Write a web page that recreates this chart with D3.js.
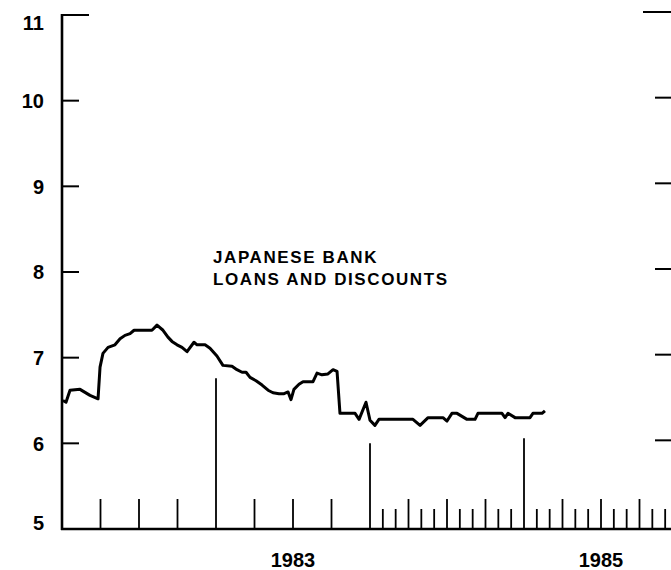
<!DOCTYPE html>
<html lang="en">
<head>
    <meta charset="UTF-8">
    <title>Japanese Bank Loans and Discounts</title>
    <style>
        body { margin: 0; background: #fff; }
        svg { display: block; }
        text { font-family: "Liberation Sans", Arial, sans-serif; fill: #000; }
    </style>
</head>
<body>
    <svg id="chart" width="671" height="570"></svg>

    <script src="https://d3js.org/d3.v7.min.js"></script>
    <script>
        // Rate series (decimal year, percent)
        const dates = [
            1982.006, 1982.026, 1982.052, 1982.117, 1982.182, 1982.234, 1982.247, 1982.266,
            1982.299, 1982.344, 1982.377, 1982.409, 1982.442, 1982.468, 1982.584, 1982.617,
            1982.656, 1982.688, 1982.714, 1982.747, 1982.779, 1982.812, 1982.857, 1982.877,
            1982.929, 1982.961, 1983.006, 1983.045, 1983.104, 1983.136, 1983.169, 1983.195,
            1983.221, 1983.260, 1983.299, 1983.338, 1983.370, 1983.409, 1983.442, 1983.468,
            1983.487, 1983.506, 1983.539, 1983.565, 1983.630, 1983.656, 1983.688, 1983.727,
            1983.760, 1983.786, 1983.805, 1983.903, 1983.929, 1983.974, 1984.000, 1984.032,
            1984.058, 1984.279, 1984.325, 1984.377, 1984.474, 1984.500, 1984.532, 1984.565,
            1984.630, 1984.682, 1984.701, 1984.857, 1984.877, 1984.896, 1984.942, 1985.039,
            1985.058, 1985.117, 1985.136
        ];
        const rates = [
            6.50, 6.48, 6.62, 6.63, 6.56, 6.52, 6.89, 7.05,
            7.12, 7.15, 7.22, 7.26, 7.28, 7.32, 7.32, 7.38,
            7.32, 7.24, 7.19, 7.15, 7.12, 7.07, 7.18, 7.15,
            7.15, 7.11, 7.02, 6.91, 6.90, 6.86, 6.83, 6.83,
            6.77, 6.73, 6.68, 6.62, 6.59, 6.58, 6.58, 6.60,
            6.51, 6.63, 6.69, 6.72, 6.72, 6.82, 6.80, 6.81,
            6.86, 6.84, 6.35, 6.35, 6.28, 6.48, 6.27, 6.21,
            6.28, 6.28, 6.21, 6.30, 6.30, 6.26, 6.35, 6.35,
            6.28, 6.28, 6.35, 6.35, 6.30, 6.35, 6.30, 6.30,
            6.35, 6.35, 6.38
        ];

        const yTicks = [5, 6, 7, 8, 9, 10, 11];
        const yearLabels = [1983, 1985];
        // year boundary marks and how far up each one reaches (percent)
        const yearMarks = [1983, 1984, 1985];
        const yearMarkTops = [6.76, 6.0, 6.06];
        const labelLines = ["JAPANESE BANK", "LOANS AND DISCOUNTS"];

        const svg = d3.select("#chart");
        const x = d3.scaleLinear().domain([1982, 1986]).range([62, 678]);
        const y = d3.scaleLinear().domain([5, 11]).range([529, 15]);

        const ink = "#000";

        // left axis and bottom axis
        svg.append("line")
            .attr("x1", x(1982)).attr("x2", x(1982))
            .attr("y1", y(11) - 1).attr("y2", y(5) + 1)
            .attr("stroke", ink).attr("stroke-width", 2.6);
        svg.append("line")
            .attr("x1", x(1982) - 1).attr("x2", 680)
            .attr("y1", y(5)).attr("y2", y(5))
            .attr("stroke", ink).attr("stroke-width", 2.6);

        // y ticks, left side pointing in
        svg.selectAll(".ytick-l")
            .data(yTicks.filter(d => d > 5))
            .enter().append("line")
            .attr("class", "ytick-l")
            .attr("x1", x(1982))
            .attr("x2", d => x(1982) + (d === 11 ? 27 : 17))
            .attr("y1", d => y(d)).attr("y2", d => y(d))
            .attr("stroke", ink).attr("stroke-width", 2);

        // y ticks, right side (axis itself sits just off the page)
        const rightX = 675;
        svg.selectAll(".ytick-r")
            .data(yTicks.filter(d => d > 5))
            .enter().append("line")
            .attr("class", "ytick-r")
            .attr("x1", rightX)
            .attr("x2", d => rightX - (d === 11 ? 32 : 20))
            .attr("y1", d => y(d) - 3).attr("y2", d => y(d) - 3)
            .attr("stroke", ink).attr("stroke-width", 2);

        // y labels
        svg.selectAll(".ylab")
            .data(yTicks)
            .enter().append("text")
            .attr("class", "ylab")
            .attr("x", 44)
            .attr("y", d => Math.min(Math.max(y(d), 23), 523))
            .attr("dy", "0.36em")
            .attr("text-anchor", "end")
            .attr("font-size", "20px")
            .attr("font-weight", "bold")
            .text(d => d);

        // bottom ticks: quarterly in 1982-83, monthly from 1984
        const quarterTicks = d3.range(1982, 1986, 0.25).filter(d => d % 1 !== 0 && d > 1982);
        const monthTicks = d3.range(0, 24).map(i => 1984 + i / 12)
            .filter(d => Math.abs(d * 4 - Math.round(d * 4)) > 1e-6);

        svg.selectAll(".qtick")
            .data(quarterTicks)
            .enter().append("line")
            .attr("class", "qtick")
            .attr("x1", d => x(d)).attr("x2", d => x(d))
            .attr("y1", y(5)).attr("y2", y(5) - 30)
            .attr("stroke", ink).attr("stroke-width", 1.8);

        svg.selectAll(".mtick")
            .data(monthTicks)
            .enter().append("line")
            .attr("class", "mtick")
            .attr("x1", d => x(d)).attr("x2", d => x(d))
            .attr("y1", y(5)).attr("y2", y(5) - 20)
            .attr("stroke", ink).attr("stroke-width", 1.8);

        svg.selectAll(".ymark")
            .data(yearMarks)
            .enter().append("line")
            .attr("class", "ymark")
            .attr("x1", d => x(d)).attr("x2", d => x(d))
            .attr("y1", y(5)).attr("y2", (d, i) => y(yearMarkTops[i]))
            .attr("stroke", ink).attr("stroke-width", 1.8);

        // year labels centred in their year
        svg.selectAll(".xlab")
            .data(yearLabels)
            .enter().append("text")
            .attr("class", "xlab")
            .attr("x", d => x(d + 0.5))
            .attr("y", 567)
            .attr("text-anchor", "middle")
            .attr("font-size", "20px")
            .attr("font-weight", "bold")
            .text(d => d);

        // the rate line
        const series = dates.map((d, i) => ({ t: d, v: rates[i] }));
        svg.append("path")
            .datum(series)
            .attr("fill", "none")
            .attr("stroke", ink)
            .attr("stroke-width", 3)
            .attr("stroke-linejoin", "round")
            .attr("d", d3.line().x(d => x(d.t)).y(d => y(d.v)));

        // series label
        svg.selectAll(".label")
            .data(labelLines)
            .enter().append("text")
            .attr("class", "label")
            .attr("x", 213)
            .attr("y", (d, i) => 263 + i * 22)
            .attr("font-size", "17px")
            .attr("font-weight", "bold")
            .attr("letter-spacing", "1.6px")
            .text(d => d);
    </script>
</body>
</html>
